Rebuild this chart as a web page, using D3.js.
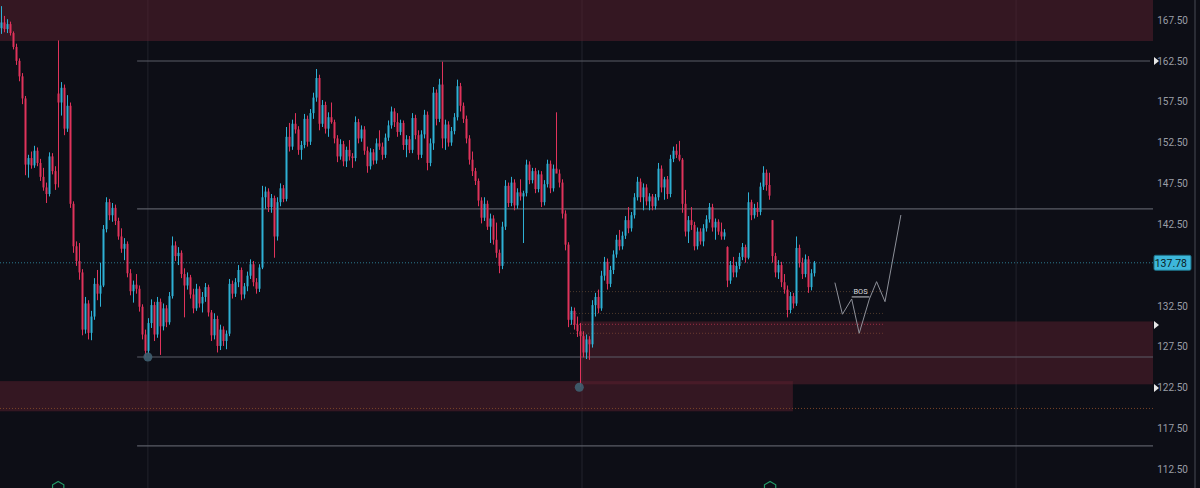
<!DOCTYPE html>
<html>
<head>
<meta charset="utf-8">
<script src="https://cdn.jsdelivr.net/npm/d3@7"></script>
<style>
  html, body { margin: 0; padding: 0; background: #0d0e16; }
  svg { display: block; }
  .tick text { font-family: Roboto, "Noto Sans", sans-serif; }
</style>
</head>
<body>
<div id="chart"></div>
<script>
// price ticks on the right axis (137.50 sits under the last price tag)
var tickVals = [112.5, 117.5, 122.5, 127.5, 132.5, 142.5, 147.5, 152.5, 157.5, 162.5, 167.5];
var lastPrice = 137.78;

// candles: [open, high, low, close], one bar per row
var candles = [
  [166.5,169.2,165.8,167.2],[167.2,168.0,166.0,166.4],[166.4,167.6,165.9,167.0],[167.0,167.3,165.6,165.9],
  [165.9,166.1,163.9,164.2],[164.2,164.6,162.0,162.5],[162.5,162.8,160.0,160.6],[160.6,161.0,157.2,157.9],
  [157.9,158.2,148.5,149.8],[149.8,151.0,148.2,150.6],[150.6,151.4,149.3,149.7],[149.7,152.1,149.4,151.5],
  [151.5,151.9,149.6,150.0],[150.0,150.5,147.8,148.3],[148.3,149.4,146.6,147.0],[147.0,147.6,145.1,146.2],
  [146.2,151.3,145.9,150.8],[150.8,151.2,148.6,149.0],[149.0,149.6,146.7,147.4],[158.5,165.0,147.0,157.4],
  [157.4,159.9,155.8,159.2],[159.2,159.6,153.4,154.2],[154.2,158.3,153.8,157.0],[157.0,157.4,144.5,145.0],
  [145.0,145.3,139.0,139.8],[139.8,140.4,137.4,138.0],[138.0,140.2,135.7,136.6],[136.6,137.0,128.9,129.6],
  [129.6,133.6,129.1,132.8],[132.8,133.2,128.4,129.2],[129.2,131.9,128.3,131.2],[131.2,135.9,130.8,135.2],
  [135.2,136.9,133.2,134.0],[134.0,137.8,132.4,135.0],[135.0,142.4,134.8,141.9],[141.9,145.8,141.5,145.2],
  [145.2,145.6,143.0,143.6],[143.6,145.1,142.8,144.5],[144.5,144.9,142.4,142.9],[142.9,143.3,140.6,141.0],
  [141.0,142.0,139.0,139.5],[139.5,140.8,138.1,140.1],[140.1,140.4,136.0,136.5],[136.5,137.0,133.8,134.3],
  [134.3,135.6,132.9,135.1],[135.1,136.4,134.0,134.6],[134.6,135.0,131.8,132.4],[132.4,132.7,128.4,129.0],
  [129.0,129.6,126.2,127.0],[127.0,131.0,126.6,130.4],[130.4,133.3,129.8,132.6],[132.6,133.0,128.2,129.0],
  [129.0,133.6,128.6,133.0],[133.0,133.4,126.5,130.0],[130.0,132.8,129.5,132.2],[132.2,132.6,129.9,130.5],
  [130.5,134.2,130.2,133.7],[133.7,141.0,133.4,139.9],[139.9,140.4,138.0,138.6],[138.6,139.7,137.5,139.0],
  [139.0,139.3,135.9,136.4],[136.4,137.1,131.1,135.0],[135.0,136.6,134.5,136.0],[136.0,136.3,133.4,133.9],
  [133.9,134.6,131.6,132.2],[132.2,135.2,131.9,134.6],[134.6,134.9,132.3,132.8],[132.8,134.2,131.7,133.6],
  [133.6,135.3,133.0,134.8],[134.8,135.1,131.2,131.7],[131.7,132.0,128.2,128.9],[128.9,131.6,128.4,130.9],
  [130.9,131.3,126.8,127.6],[127.6,130.2,127.1,129.6],[129.6,130.0,127.6,128.2],[128.2,129.5,127.2,129.1],
  [129.1,135.8,128.8,135.2],[135.2,135.6,133.4,134.0],[134.0,135.9,133.6,135.4],[135.4,137.5,134.8,136.9],
  [136.9,137.2,133.2,133.9],[133.9,135.3,133.4,134.9],[134.9,136.7,134.3,136.2],[136.2,138.2,135.8,137.6],
  [137.6,138.0,134.9,135.4],[135.4,135.9,134.0,134.6],[134.6,137.6,134.2,137.2],[137.2,147.2,137.0,145.8],
  [145.8,147.1,144.4,146.5],[146.5,146.9,144.0,144.6],[144.6,146.2,143.9,145.7],[145.7,146.0,138.4,141.0],
  [141.0,145.8,140.5,145.2],[145.2,147.5,144.7,146.9],[146.9,147.3,145.2,145.6],[145.6,154.4,145.3,153.2],
  [153.2,154.9,151.4,152.0],[152.0,155.3,151.6,154.8],[154.8,156.1,153.6,154.1],[154.1,154.5,151.0,151.6],
  [151.6,152.7,150.4,152.2],[152.2,156.0,151.8,155.4],[155.4,155.8,152.0,152.6],[152.6,156.6,152.2,156.1],
  [156.1,158.6,155.4,158.0],[158.0,161.5,157.5,160.4],[160.4,160.8,154.0,154.8],[154.8,157.7,154.4,157.1],
  [157.1,157.5,153.6,154.2],[154.2,156.2,153.2,155.6],[155.6,157.4,154.8,155.0],[155.0,155.3,152.4,153.0],
  [153.0,153.4,150.1,150.8],[150.8,152.9,150.4,152.3],[152.3,152.7,149.6,150.2],[150.2,152.0,149.5,151.6],
  [151.6,152.8,150.3,150.8],[150.8,151.2,149.4,150.6],[150.6,155.7,150.2,155.0],[155.0,155.4,152.4,153.0],
  [153.0,154.6,152.6,154.1],[154.1,154.5,151.0,151.5],[151.5,152.0,148.8,149.6],[149.6,151.8,149.2,151.3],
  [151.3,151.7,149.8,150.3],[150.3,153.0,149.9,152.4],[152.4,154.0,151.6,152.0],[152.0,152.5,150.4,151.0],
  [151.0,153.6,150.6,153.1],[153.1,155.2,152.7,154.6],[154.6,156.9,154.2,156.3],[156.3,156.7,154.4,155.0],
  [155.0,156.1,153.2,153.8],[153.8,155.3,153.4,154.9],[154.9,155.2,151.6,152.2],[152.2,153.4,150.7,152.9],
  [152.9,153.3,151.2,151.6],[151.6,156.1,151.2,155.5],[155.5,155.9,152.9,153.4],[153.4,154.0,150.4,151.0],
  [151.0,154.0,150.6,153.5],[153.5,156.5,153.0,155.9],[155.9,156.3,149.1,150.0],[150.0,153.0,149.6,152.4],
  [152.4,159.3,151.6,158.6],[158.6,159.0,154.6,155.4],[155.4,160.3,155.0,159.6],[159.6,162.4,151.8,153.0],
  [153.0,155.3,151.6,154.7],[154.7,155.1,152.0,152.5],[152.5,154.4,152.1,153.9],[153.9,156.1,153.5,155.6],
  [155.6,160.2,155.2,159.4],[159.4,159.8,156.3,157.0],[157.0,157.4,154.9,155.4],[155.4,155.8,152.4,153.0],
  [153.0,153.4,149.8,150.4],[150.4,151.4,148.4,149.0],[149.0,149.4,147.3,147.8],[147.8,148.1,144.7,145.4],
  [145.4,145.8,142.6,143.3],[143.3,145.8,142.9,145.0],[145.0,145.4,141.8,142.2],[142.2,143.8,140.2,143.2],
  [143.2,143.6,140.0,140.6],[140.6,142.7,138.4,139.0],[139.0,139.4,136.5,137.4],[137.4,142.8,137.0,142.2],
  [142.2,147.9,141.8,147.2],[147.2,147.6,144.6,145.1],[145.1,148.3,144.7,147.6],[147.6,148.0,144.2,144.8],
  [144.8,146.9,144.4,146.4],[146.4,148.0,145.4,145.9],[145.9,146.6,140.2,146.3],[146.3,150.4,145.9,149.8],
  [149.8,150.2,147.4,147.9],[147.9,149.4,147.5,149.0],[149.0,149.4,146.3,146.8],[146.8,149.1,146.4,148.6],
  [148.6,149.0,144.6,145.2],[145.2,147.9,144.8,147.4],[147.4,150.4,147.0,149.9],[149.9,150.3,146.3,146.9],
  [146.9,149.8,146.5,149.3],[149.3,156.2,148.8,148.7],[148.7,149.2,147.0,147.6],[147.6,148.0,143.2,143.8],
  [143.8,144.2,139.3,140.0],[140.0,140.3,129.9,130.8],[130.8,132.4,130.2,131.9],[131.9,132.3,129.6,130.2],
  [130.2,131.2,128.7,129.4],[129.4,130.4,122.6,128.8],[128.8,129.4,126.2,126.8],[126.8,129.0,126.0,128.4],
  [128.4,128.8,125.9,127.8],[127.8,133.2,127.4,132.6],[132.6,134.1,131.2,133.6],[133.6,134.5,131.6,132.2],
  [132.2,136.8,131.9,136.2],[136.2,138.5,135.6,137.9],[137.9,138.3,134.5,135.2],[135.2,137.4,134.8,136.9],
  [136.9,139.3,136.4,138.8],[138.8,141.2,138.4,140.6],[140.6,141.8,139.3,139.8],[139.8,141.6,139.4,141.1],
  [141.1,143.5,140.7,143.0],[143.0,144.6,141.4,142.0],[142.0,144.0,141.6,143.6],[143.6,146.3,143.2,145.8],
  [145.8,148.3,145.4,147.7],[147.7,148.1,145.2,145.8],[145.8,147.5,144.2,147.0],[147.0,147.4,144.8,145.3],
  [145.3,146.3,144.2,145.9],[145.9,146.2,144.2,144.7],[144.7,146.2,144.3,145.8],[145.8,150.0,145.4,149.3],
  [149.3,149.7,146.4,147.0],[147.0,148.3,145.5,148.0],[148.0,148.4,145.6,146.2],[146.2,151.0,145.8,150.5],
  [150.5,152.0,150.1,151.5],[151.5,152.3,150.6,151.0],[151.0,152.7,150.2,150.4],[150.4,150.6,143.9,145.0],
  [145.0,146.7,141.0,141.6],[141.6,143.5,140.2,143.0],[143.0,144.6,141.8,142.4],[142.4,142.8,139.3,139.8],
  [139.8,142.1,139.4,141.6],[141.6,142.0,140.0,140.4],[140.4,142.5,139.8,142.0],[142.0,143.6,141.6,143.1],
  [143.1,145.1,142.7,144.6],[144.6,145.0,141.6,142.1],[142.1,143.2,140.6,142.8],[142.8,143.1,141.2,141.6],
  [141.6,142.7,140.6,141.0],[141.0,141.9,140.6,141.5],[139.7,139.8,134.8,135.6],[135.6,138.0,135.2,137.5],
  [137.5,138.5,136.0,136.6],[136.6,137.9,136.0,137.4],[137.4,139.0,137.0,138.5],[138.5,140.2,138.1,139.7],
  [139.7,140.0,137.8,138.4],[138.4,146.4,138.2,145.2],[145.2,145.5,143.0,143.6],[143.6,145.0,143.2,144.5],
  [144.5,145.2,143.4,144.0],[144.0,147.6,143.6,147.1],[147.1,149.6,146.7,148.8],[148.8,149.2,146.6,147.3],
  [147.3,148.8,145.5,146.0],[143.0,143.0,137.8,138.6],[138.6,139.0,136.0,136.6],[136.6,138.1,135.8,137.5],
  [137.5,137.9,134.8,135.4],[135.4,136.4,134.0,134.5],[134.5,135.0,131.1,132.0],[132.0,134.2,131.6,133.7],
  [133.7,134.1,132.2,132.8],[132.8,141.0,132.5,139.6],[139.6,140.0,137.2,137.8],[137.8,138.4,135.8,136.4],
  [136.4,138.8,136.0,138.2],[138.2,138.6,134.1,134.8],[134.8,137.0,134.4,136.5],[136.5,138.0,136.1,137.78]
];

// projected path after the last bar: [bar index, price]
var projection = [[277.8,135.35],[280.3,131.48],[283.4,133.35],[285.9,129.15],[289.3,133.35],[291.7,135.47],[294.5,133.02],[299.8,143.63]];
var bosLevel = 133.6, bosFrom = 283.4, bosTo = 289.3;

// drawn levels
var levels = [162.48, 144.37, 126.25, 115.36];
var zones = [
  {top: 171.0, bottom: 164.93, from: -1, to: null},
  {top: 130.6, bottom: 122.9, from: 192.8, to: null},
  {top: 123.3, bottom: 119.6, from: -1, to: 263.8}
];
var dotted = [
  {price: 134.25, from: 189.5, to: 293.8, color: '#4d3a2c'},
  {price: 131.58, from: 189.5, to: 293.8, color: '#4d3a2c'},
  {price: 130.25, from: 189.5, to: 293.8, color: '#9a2e44'},
  {price: 129.15, from: 189.5, to: 293.8, color: '#6a3a30'},
  {price: 119.95, from: -1, to: null, color: '#7a4528'}
];
var markers = [162.48, 130.17, 122.45];
var pivots = [[48.8, 126.25], [192.6, 122.55]];
var timeLines = [48.8, 193.5, 338.2];
var hexes = [18.9, 256.2];

var w_width = 1200, w_height = 488;
var plotRight = 1153;

var svg = d3.select('#chart').append('svg')
  .attr('width', w_width)
  .attr('height', w_height)

svg.append('rect').attr('width', w_width).attr('height', w_height).attr('fill', '#0d0e16')

var x = d3.scaleLinear().domain([0, candles.length - 1]).range([1.5, 1.5 + 3 * (candles.length - 1)])
var y = d3.scaleLinear().domain([112.5, 167.5]).range([469.3, 20])

function xr(v) { return v == null ? plotRight : (v < 0 ? 0 : x(v)) }

// vertical time grid
svg.selectAll('.vline').data(timeLines).enter().append('line')
  .attr('x1', function(d) {return x(d)}).attr('x2', function(d) {return x(d)})
  .attr('y1', 0).attr('y2', w_height)
  .attr('stroke', '#22232c').attr('stroke-width', 1)

// supply / demand zones
svg.selectAll('.zone').data(zones).enter().append('rect')
  .attr('x', function(d) {return xr(d.from)})
  .attr('y', function(d) {return y(d.top)})
  .attr('width', function(d) {return xr(d.to) - xr(d.from)})
  .attr('height', function(d) {return y(d.bottom) - y(d.top)})
  .attr('fill', '#5c1f2e').attr('opacity', 0.5)

// horizontal levels
svg.selectAll('.level').data(levels).enter().append('line')
  .attr('x1', x(45.2)).attr('x2', function(d, i) {return i == 0 ? 1150 : plotRight})
  .attr('y1', function(d) {return y(d)}).attr('y2', function(d) {return y(d)})
  .attr('stroke', '#5a5c66').attr('stroke-width', 1.2)

svg.selectAll('.dots').data(dotted).enter().append('line')
  .attr('x1', function(d) {return xr(d.from)}).attr('x2', function(d) {return d.to == null ? plotRight : x(d.to)})
  .attr('y1', function(d) {return y(d.price)}).attr('y2', function(d) {return y(d.price)})
  .attr('stroke', function(d) {return d.color}).attr('stroke-width', 1)
  .style('stroke-dasharray', '1, 2')

// last price line
svg.append('line')
  .attr('x1', 0).attr('x2', plotRight)
  .attr('y1', y(lastPrice)).attr('y2', y(lastPrice))
  .attr('stroke', '#2c7a8e').attr('stroke-width', 1)
  .style('stroke-dasharray', '1, 2')

// candles
var upColor = '#2eb0d4', downColor = '#e0335b';
var bars = svg.append('g').selectAll('g').data(candles).enter().append('g')

bars.append('line')
  .attr('x1', function(d, i) {return x(i)}).attr('x2', function(d, i) {return x(i)})
  .attr('y1', function(d) {return y(d[1])}).attr('y2', function(d) {return y(d[2])})
  .attr('stroke', function(d) {return d[3] >= d[0] ? upColor : downColor})
  .attr('stroke-width', 1)

bars.append('rect')
  .attr('x', function(d, i) {return x(i) - 1})
  .attr('width', 2)
  .attr('y', function(d) {return y(Math.max(d[0], d[3]))})
  .attr('height', function(d) {return Math.max(1, Math.abs(y(d[0]) - y(d[3])))})
  .attr('fill', function(d) {return d[3] >= d[0] ? upColor : downColor})

// pivot dots
svg.selectAll('.pivot').data(pivots).enter().append('circle')
  .attr('cx', function(d) {return x(d[0])}).attr('cy', function(d) {return y(d[1])})
  .attr('r', 4.5).attr('fill', '#3f5f70').attr('opacity', 0.9)

// projection zigzag + BOS
svg.append('path')
  .datum(projection)
  .attr('d', d3.line().x(function(d) {return x(d[0])}).y(function(d) {return y(d[1])}))
  .attr('fill', 'none').attr('stroke', '#8d9099').attr('stroke-width', 1)

svg.append('line')
  .attr('x1', x(bosFrom)).attr('x2', x(bosTo))
  .attr('y1', y(bosLevel)).attr('y2', y(bosLevel))
  .attr('stroke', '#c8cad0').attr('stroke-width', 1)

svg.append('text').text('BOS')
  .attr('x', x((bosFrom + bosTo) / 2)).attr('y', y(bosLevel) - 2.5)
  .attr('text-anchor', 'middle')
  .attr('font-family', 'Roboto, sans-serif').attr('font-size', 7.5)
  .attr('fill', '#d6d8dd')

// earnings badges at the bottom
var hex = d3.range(6).map(function(k) {
  var a = Math.PI / 3 * k - Math.PI / 2;
  return [6.5 * Math.cos(a), 6.5 * Math.sin(a)]
})
svg.selectAll('.hex').data(hexes).enter().append('path')
  .attr('transform', function(d) {return 'translate(' + x(d) + ',' + 488 + ')'})
  .attr('d', 'M' + hex.join('L') + 'Z')
  .attr('fill', '#0d0e16').attr('stroke', '#239a67').attr('stroke-width', 1.2)

// right axis
var axis = svg.append('g')
  .attr('transform', 'translate(1188,0)')
  .call(d3.axisLeft(y).tickValues(tickVals).tickFormat(d3.format('.2f')).tickSize(0).tickPadding(0))
axis.select('.domain').remove()
axis.selectAll('text').attr('fill', '#9a9da6').attr('font-size', 10)

svg.append('rect').attr('x', 1194).attr('y', 0).attr('width', 2).attr('height', w_height).attr('fill', '#2a2c35')

// level markers on the axis
svg.selectAll('.mark').data(markers).enter().append('path')
  .attr('transform', function(d) {return 'translate(1154,' + y(d) + ')'})
  .attr('d', 'M0,-4L5,0L0,4Z')
  .attr('fill', '#e6e6e6')

// last price tag
svg.append('rect')
  .attr('x', 1154).attr('y', y(lastPrice) - 7.5)
  .attr('width', 37).attr('height', 15).attr('rx', 1.5)
  .attr('fill', '#3db7da').attr('stroke', '#1d6f86').attr('stroke-width', 1)
svg.append('text').text(lastPrice.toFixed(2))
  .attr('x', 1187).attr('y', y(lastPrice) + 4)
  .attr('text-anchor', 'end')
  .attr('font-family', 'Roboto, sans-serif').attr('font-size', 10.5)
  .attr('fill', '#0b1a22')
</script>
</body>
</html>
